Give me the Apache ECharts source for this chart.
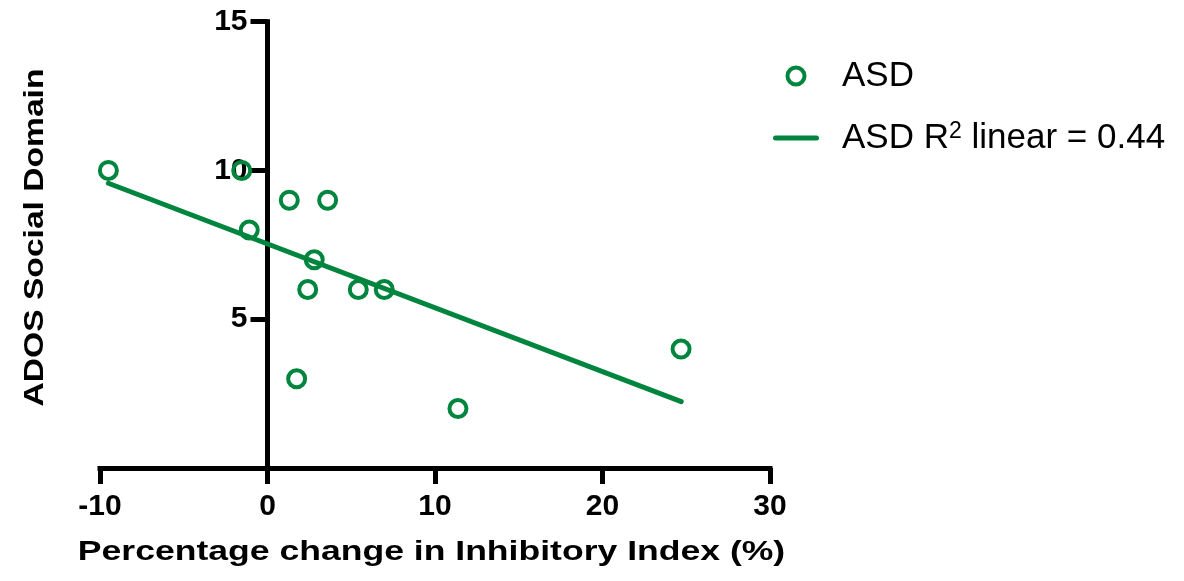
<!DOCTYPE html>
<html>
<head>
<meta charset="utf-8">
<title>ADOS Social Domain vs Inhibitory Index</title>
<script src="https://cdn.jsdelivr.net/npm/echarts@6/dist/echarts.min.js"></script>
<style>
  html, body { margin: 0; padding: 0; background: #ffffff; }
  #chart { width: 1184px; height: 581px; }
</style>
</head>
<body>
<div id="chart"></div>
<script>
// Percentage change in inhibitory index (%) for each participant
const pctChange = [-9.5, -1.54, -1.09, 1.30, 3.59, 2.79, 2.40, 5.42, 6.97, 1.74, 11.37, 24.69];
// ADOS social domain score for each participant
const adosSocial = [10, 10, 8, 9, 9, 7, 6, 6, 6, 3, 2, 4];
// Linear fit endpoints (x from the data range, fitted y)
const fitX = [-9.5, 24.7];
const fitY = [9.57, 2.23];

const xTicks = { min: -10, max: 30, step: 10 };
const yTicks = { min: 0, max: 15, step: 5 };

const scatterName = 'ASD';
const fitName = 'ASD R2 linear = 0.44';
const xTitle = 'Percentage change in Inhibitory Index (%)';
const yTitle = 'ADOS Social Domain';

const green = '#00853e';
const font = '"Liberation Sans", Arial, Helvetica, sans-serif';

const points = pctChange.map((x, i) => [x, adosSocial[i]]);
const fitLine = fitX.map((x, i) => [x, fitY[i]]);

// plot area
const gridLeft = 100, gridRight = 414;
const plotWidth = 1184 - gridLeft - gridRight;
// the y axis crosses at x = 0, so shift it inward from the grid's left edge
const yAxisShift = plotWidth * (0 - xTicks.min) / (xTicks.max - xTicks.min);

const chart = echarts.init(document.getElementById('chart'), null, { renderer: 'canvas' });

chart.setOption({
  backgroundColor: '#ffffff',
  animation: false,
  grid: { left: gridLeft, right: gridRight, top: 21.7, bottom: 113, outerBoundsMode: 'none' },
  xAxis: {
    type: 'value',
    min: xTicks.min, max: xTicks.max, interval: xTicks.step,
    axisLine: { onZero: false, lineStyle: { color: '#000', width: 5, cap: 'square' } },
    axisTick: { length: 16, lineStyle: { color: '#000', width: 5 } },
    axisLabel: { margin: 24, color: '#000', fontFamily: font, fontWeight: 'bold', fontSize: 30 },
    splitLine: { show: false }
  },
  yAxis: {
    type: 'value',
    min: yTicks.min, max: yTicks.max, interval: yTicks.step,
    offset: -yAxisShift,
    axisLine: { onZero: false, lineStyle: { color: '#000', width: 5, cap: 'square' } },
    axisTick: { length: 17, lineStyle: { color: '#000', width: 5 } },
    axisLabel: {
      margin: 20, color: '#000', fontFamily: font, fontWeight: 'bold', fontSize: 30,
      formatter: v => (v === 0 ? '' : String(v))
    },
    splitLine: { show: false }
  },
  legend: {
    orient: 'vertical',
    left: 768, top: 53,
    itemWidth: 46, itemHeight: 17, itemGap: 26,
    textStyle: { color: '#000', fontFamily: font, fontSize: 35, lineHeight: 36, padding: [0, 0, 0, 18],
      rich: {
        a: { fontFamily: font, fontSize: 35, lineHeight: 36, color: '#000' },
        s: { fontFamily: font, fontSize: 23, lineHeight: 24, color: '#000', verticalAlign: 'top' }
      }
    },
    formatter: name => (name === fitName ? '{a|ASD R}{s|2}{a| linear = 0.44}' : name),
    data: [
      { name: scatterName, icon: 'circle',
        itemStyle: { color: 'rgba(255,255,255,0)', borderColor: green, borderWidth: 4, opacity: 1 } },
      { name: fitName, icon: 'path://M2.5,0 L43.5,0 A2.5,2.5 0 0 1 43.5,5 L2.5,5 A2.5,2.5 0 0 1 2.5,0 Z',
        itemStyle: { color: green, borderWidth: 0 } }
    ]
  },
  graphic: [
    {
      type: 'text', x: 431.5, y: 552, scaleX: 1.27, silent: true,
      style: { text: xTitle, font: 'bold 28px ' + font, fill: '#000', align: 'center', verticalAlign: 'middle' }
    },
    {
      type: 'text', x: 35, y: 237.5, rotation: Math.PI / 2, scaleX: 1.2, silent: true,
      style: { text: yTitle, font: 'bold 28px ' + font, fill: '#000', align: 'center', verticalAlign: 'middle' }
    }
  ],
  series: [
    {
      name: fitName,
      type: 'line',
      data: fitLine,
      symbol: 'none',
      z: 2,
      lineStyle: { color: green, width: 5, cap: 'round' },
      itemStyle: { color: green }
    },
    {
      name: scatterName,
      type: 'scatter',
      data: points,
      symbol: 'circle',
      symbolSize: 17,
      z: 3,
      itemStyle: { color: 'rgba(255,255,255,0)', borderColor: green, borderWidth: 4, opacity: 1 }
    }
  ]
});
</script>
</body>
</html>
